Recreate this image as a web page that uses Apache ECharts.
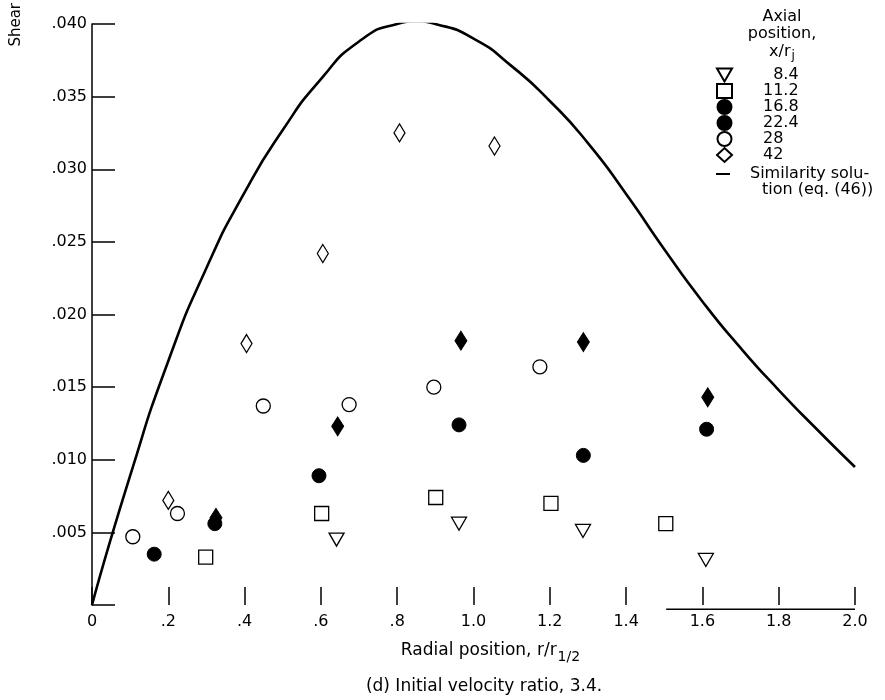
<!DOCTYPE html>
<html>
<head>
<meta charset="utf-8">
<script src="https://cdn.jsdelivr.net/npm/echarts@6/dist/echarts.min.js"></script>
<style>
html,body{margin:0;padding:0;background:#fff;}
#chart{width:885px;height:700px;}
</style>
</head>
<body>
<div id="chart"></div>
<script>
// ---- data ----
const xTickLabels = ['0', '.2', '.4', '.6', '.8', '1.0', '1.2', '1.4', '1.6', '1.8', '2.0'];
const yTickLabels = ['', '.005', '.010', '.015', '.020', '.025', '.030', '.035', '.040'];
const s84  = [[0.641, 0.0045], [0.962, 0.0056], [1.287, 0.0051], [1.609, 0.0031]];
const s112 = [[0.298, 0.0033], [0.602, 0.0063], [0.901, 0.0074], [1.203, 0.0070], [1.504, 0.0056]];
const s168 = [[0.163, 0.0035], [0.322, 0.0056], [0.595, 0.0089], [0.962, 0.0124], [1.288, 0.0103], [1.611, 0.0121]];
const s224 = [[0.325, 0.0060], [0.644, 0.0123], [0.967, 0.0182], [1.288, 0.0181], [1.614, 0.0143]];
const s28  = [[0.107, 0.0047], [0.224, 0.0063], [0.449, 0.0137], [0.674, 0.0138], [0.896, 0.0150], [1.174, 0.0164]];
const s42  = [[0.200, 0.0072], [0.405, 0.0180], [0.605, 0.0242], [0.806, 0.0325], [1.055, 0.0316]];
const similarityX = [0, 0.1, 0.2, 0.3, 0.4, 0.5, 0.6, 0.7, 0.8, 0.85, 0.9, 1.0, 1.1, 1.2, 1.3, 1.4, 1.5, 1.6, 1.7, 1.8, 1.9, 2.0];
const similarityY = [0, 0.0089, 0.0168, 0.0232, 0.0284, 0.0327, 0.0362, 0.0388, 0.0400, 0.0402, 0.0400, 0.0390, 0.0371, 0.0347, 0.0318, 0.0283, 0.0245, 0.0209, 0.0177, 0.0148, 0.0121, 0.0095];
const baseSegment = [[1.505, -0.0003], [2.0, -0.0003]];
const lineName = 'Similarity solution (eq. (46))';

// ---- chart ----
const FONT = '"DejaVu Sans", "Noto Sans", sans-serif';
const chart = echarts.init(document.getElementById('chart'), null, {renderer: 'canvas'});
const triDown = 'path://M0,0 L16,0 L8,14 Z';
function open() { return {color: '#fff', borderColor: '#000', borderWidth: 1.3, opacity: 1}; }
const filled = {color: '#000', borderColor: '#000', borderWidth: 1, opacity: 1};

const option = {
  backgroundColor: '#fff',
  animation: false,
  textStyle: {fontFamily: FONT, color: '#000'},
  grid: {left: 92, right: 30, top: 24, bottom: 95, containLabel: false},
  title: [
    {
      text: 'Axial\nposition,\n{a|x/r}{s|j}',
      left: 777, top: 3, textAlign: 'center',
      textStyle: {fontFamily: FONT, fontSize: 16, fontWeight: 'normal', color: '#000', lineHeight: 17.5,
        rich: {a: {fontFamily: FONT, fontSize: 16, color: '#000'}, s: {fontFamily: FONT, fontSize: 12, color: '#000', padding: [9, 0, 0, 1]}}}
    },
    {
      text: '(d) Initial velocity ratio, 3.4.',
      left: 479, top: 673, textAlign: 'center',
      textStyle: {fontFamily: FONT, fontSize: 17, fontWeight: 'normal', color: '#000'}
    }
  ],
  legend: [
    {
      orient: 'vertical', left: 711, top: 62, itemGap: 0, itemWidth: 15, itemHeight: 14,
      data: [
        {name: '8.4'}, {name: '11.2'}, {name: '16.8'},
        {name: '22.4', icon: 'circle'}, {name: '28'}, {name: '42'}
      ],
      formatter: n => (n === '8.4' ? '  8.4' : n),
      textStyle: {fontFamily: FONT, fontSize: 16, color: '#000', lineHeight: 15, padding: [0, 0, 0, 26]},
      selectedMode: false
    },
    {
      orient: 'vertical', left: 711, top: 161, itemWidth: 14, itemHeight: 2,
      data: [{name: lineName, icon: 'rect'}],
      formatter: () => 'Similarity solu-',
      textStyle: {fontFamily: FONT, fontSize: 16, color: '#000', padding: [0, 0, 0, 15]},
      selectedMode: false
    }
  ],
  graphic: [
    {
      type: 'text', left: 9, top: 3, rotation: Math.PI / 2,
      style: {text: 'Shear', fontFamily: FONT, fontSize: 15, fill: '#000'}
    },
    {
      type: 'text', left: 762, top: 182,
      style: {text: 'tion (eq. (46))', fontFamily: FONT, fontSize: 16, fill: '#000'}
    }
  ],
  xAxis: {
    type: 'value', min: 0, max: 2, interval: 0.2,
    name: 'Radial position, {a|r/r}{s|1/2}', nameLocation: 'middle', nameGap: 33,
    nameTextStyle: {fontFamily: FONT, fontSize: 17, color: '#000', padding: [0, 0, 0, 34],
      rich: {a: {fontFamily: FONT, fontSize: 17, color: '#000'}, s: {fontFamily: FONT, fontSize: 14, color: '#000', padding: [12, 0, 0, 1]}}},
    axisLine: {show: false},
    axisTick: {show: true, inside: true, length: 18, lineStyle: {color: '#000', width: 1.5}},
    axisLabel: {fontFamily: FONT, fontSize: 16, color: '#000', margin: 9,
      formatter: v => xTickLabels[Math.round(v / 0.2)]},
    splitLine: {show: false}
  },
  yAxis: {
    type: 'value', min: 0, max: 0.04, interval: 0.005,
    axisLine: {show: true, onZero: false, lineStyle: {color: '#000', width: 1.5}},
    axisTick: {show: true, inside: true, length: 23, lineStyle: {color: '#000', width: 1.5}},
    axisLabel: {fontFamily: FONT, fontSize: 16, color: '#000', margin: 5,
      formatter: v => yTickLabels[Math.round(v / 0.005)]},
    splitLine: {show: false}
  },
  series: [
    {name: '8.4', type: 'scatter', data: s84, symbol: triDown, symbolSize: [15, 13], itemStyle: open()},
    {name: '11.2', type: 'scatter', data: s112, symbol: 'rect', symbolSize: 14, itemStyle: open()},
    {name: '16.8', type: 'scatter', data: s168, symbol: 'circle', symbolSize: 14, itemStyle: filled},
    {name: '22.4', type: 'scatter', data: s224, symbol: 'diamond', symbolSize: [12, 19], itemStyle: filled},
    {name: '28', type: 'scatter', data: s28, symbol: 'circle', symbolSize: 14, itemStyle: open()},
    {name: '42', type: 'scatter', data: s42, symbol: 'diamond', symbolSize: [11, 18], itemStyle: open()},
    {
      name: lineName, type: 'line', data: similarityX.map((x, i) => [x, similarityY[i]]),
      symbol: 'none', smooth: 0.6, lineStyle: {color: '#000', width: 2.6}, itemStyle: {color: '#000'}, z: 1
    },
    {
      name: 'axis segment', type: 'line', data: baseSegment, symbol: 'none', clip: false,
      lineStyle: {color: '#000', width: 1.5}, silent: true
    }
  ]
};
chart.setOption(option);
</script>
</body>
</html>
